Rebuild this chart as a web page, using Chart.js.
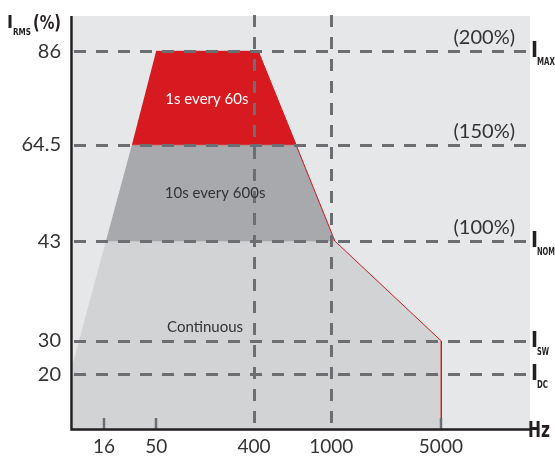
<!DOCTYPE html>
<html><head><meta charset="utf-8">
<script src="https://cdn.jsdelivr.net/npm/chart.js@4.4.1/dist/chart.umd.min.js"></script>
<style>html,body{margin:0;padding:0;background:#fff;}canvas{display:block;}</style>
</head><body>
<canvas id="c" width="555" height="456"></canvas>
<script>
// ---- data (schematic axis units) ----
const freqLabels = ['16', '50', '400', '1000', '5000'];
const freqPos = [6.8, 18.2, 39.6, 56.5, 80.5];
const currentLabels = ['20', '30', '43', '64.5', '86'];
const currentPos = [13.3, 21.3, 45.5, 68.8, 91.5];
const ratingLabels = ['(200%)', '(150%)', '(100%)'];
const ratingIdx = [4, 3, 2];
const refNames = ['MAX', 'NOM', 'SW', 'DC'];
const refIdx = [4, 2, 1, 0];
const zoneNames = ['1s every 60s', '10s every 600s', 'Continuous'];
const zone1sX = [18.2, 40.5, 48.8, 12.9];
const zone1sY = [91.5, 91.5, 68.8, 68.8];
const zone10sX = [12.9, 48.8, 57.3, 7.2];
const zone10sY = [68.8, 68.8, 45.5, 45.5];
const zoneContX = [7.2, 57.3, 80.6, 80.6, 0, 0];
const zoneContY = [45.5, 45.5, 21.3, 0, 0, 16.0];
const edgeX = [40.5, 48.8, 57.3, 80.6, 80.6];
const edgeY = [91.5, 68.8, 45.5, 21.3, 0];

const pts = (xs, ys) => xs.map((x, i) => ({x: x, y: ys[i]}));

const C = {
  bg: '#e6e7e8', cont: '#d1d3d4', dark: '#a7a9ac', red: '#d71920',
  dash: '#6d6e71', axis: '#231f20', text: '#333333'
};
const NARROW = '"Liberation Sans Narrow", "DejaVu Sans Condensed", "DejaVu Sans", sans-serif';

function fitText(ctx, t, x, y, w) {
  const m = ctx.measureText(t).width;
  ctx.save();
  ctx.translate(x, y);
  ctx.scale(Math.min(1, w / m), 1);
  ctx.fillText(t, 0, 0);
  ctx.restore();
}

const deco = {
  id: 'deco',
  beforeDraw(chart) {
    const {ctx, chartArea: a} = chart;
    ctx.save();
    ctx.fillStyle = C.bg;
    ctx.fillRect(a.left, a.top, a.right - a.left, a.bottom - a.top);
    ctx.restore();
  },
  afterDatasetsDraw(chart) {
    const {ctx, chartArea: a, scales: {x, y}} = chart;
    ctx.save();
    // horizontal dashed lines
    ctx.strokeStyle = C.dash; ctx.lineWidth = 3; ctx.setLineDash([12, 10]);
    currentPos.forEach(v => {
      const py = Math.round(y.getPixelForValue(v)) + 0.5;
      ctx.beginPath(); ctx.moveTo(a.left + 1, py); ctx.lineTo(a.right + 2, py); ctx.stroke();
    });
    // vertical dashed lines at 400 and 1000
    [2, 3].forEach(i => {
      const px = Math.round(x.getPixelForValue(freqPos[i])) + 0.5;
      ctx.beginPath(); ctx.moveTo(px, a.top - 1); ctx.lineTo(px, a.bottom); ctx.stroke();
    });
    ctx.setLineDash([]);
    // short ticks
    ctx.lineWidth = 2.5;
    [0, 1, 4].forEach(i => {
      const px = Math.round(x.getPixelForValue(freqPos[i]));
      ctx.beginPath(); ctx.moveTo(px, a.bottom - 11); ctx.lineTo(px, a.bottom); ctx.stroke();
    });
    // axes
    ctx.strokeStyle = C.axis; ctx.lineWidth = 2.5;
    ctx.beginPath();
    ctx.moveTo(a.left - 1.5, a.top); ctx.lineTo(a.left - 1.5, a.bottom + 0.5);
    ctx.lineTo(a.right, a.bottom + 0.5);
    ctx.stroke();
    // zone labels
    ctx.textAlign = 'center'; ctx.textBaseline = 'middle';
    ctx.font = '15px Lato';
    ctx.fillStyle = '#ffffff';
    ctx.fillText(zoneNames[0], x.getPixelForValue(29.3), y.getPixelForValue(79.9));
    ctx.fillStyle = C.text;
    ctx.fillText(zoneNames[1], x.getPixelForValue(31.1), y.getPixelForValue(57.1));
    ctx.fillText(zoneNames[2], x.getPixelForValue(28.9), y.getPixelForValue(24.7));
    // rating labels
    ctx.font = '20px Lato'; ctx.textAlign = 'right'; ctx.textBaseline = 'alphabetic';
    ratingLabels.forEach((t, k) => {
      const py = y.getPixelForValue(currentPos[ratingIdx[k]]);
      ctx.fillText(t, a.right - 15, py - 7);
    });
    // right reference labels
    ctx.fillStyle = C.axis; ctx.textAlign = 'left';
    const subW = {MAX: 18, NOM: 18, SW: 12, DC: 11};
    refNames.forEach((t, k) => {
      const py = Math.round(y.getPixelForValue(currentPos[refIdx[k]]));
      ctx.font = 'bold 21px ' + NARROW;
      fitText(ctx, 'I', a.right + 1, py + 6, 7);
      ctx.font = 'bold 10px ' + NARROW;
      fitText(ctx, t, a.right + 7, py + 14, subW[t]);
    });
    // Hz
    ctx.font = 'bold 21px ' + NARROW;
    fitText(ctx, 'Hz', a.right - 2, a.bottom + 8, 22);
    // I_RMS (%)
    ctx.font = 'bold 18px ' + NARROW;
    fitText(ctx, 'I', 7, 28, 6);
    ctx.font = 'bold 9px ' + NARROW;
    fitText(ctx, 'RMS', 13, 35, 18);
    ctx.font = 'bold 20px ' + NARROW;
    fitText(ctx, '(%)', 33, 29, 28);
    ctx.restore();
  }
};

new Chart(document.getElementById('c'), {
  type: 'scatter',
  data: {
    datasets: [
      {data: pts(edgeX, edgeY), showLine: true, fill: false, borderColor: C.red, borderWidth: 1, pointRadius: 0},
      {data: pts(zone1sX, zone1sY), showLine: true, fill: 'shape', backgroundColor: C.red, borderColor: C.red, borderWidth: 0.5, pointRadius: 0},
      {data: pts(zone10sX, zone10sY), showLine: true, fill: 'shape', backgroundColor: C.dark, borderColor: C.dark, borderWidth: 0.5, pointRadius: 0},
      {data: pts(zoneContX, zoneContY), showLine: true, fill: 'shape', backgroundColor: C.cont, borderColor: 'rgba(0,0,0,0)', borderWidth: 0, pointRadius: 0}
    ]
  },
  options: {
    responsive: false,
    animation: false,
    devicePixelRatio: 1,
    layout: {padding: {top: 16, right: 25, left: 0, bottom: 0}},
    plugins: {legend: {display: false}, tooltip: {enabled: false}},
    scales: {
      x: {
        type: 'linear', min: 0, max: 100,
        grid: {display: false, drawTicks: false}, border: {display: false},
        afterBuildTicks: s => { s.ticks = freqPos.map(v => ({value: v})); },
        afterFit: s => { s.height = 27; s.paddingLeft = 0; s.paddingRight = 0; },
        ticks: {
          autoSkip: false, maxRotation: 0, padding: 6,
          font: {family: 'Lato', size: 19}, color: C.text,
          callback: (v, i) => freqLabels[i]
        }
      },
      y: {
        type: 'linear', min: 0, max: 100,
        grid: {display: false, drawTicks: false}, border: {display: false},
        afterBuildTicks: s => { s.ticks = currentPos.map(v => ({value: v})); },
        afterFit: s => { s.width = 73; s.paddingTop = 0; s.paddingBottom = 0; },
        ticks: {
          autoSkip: false, padding: 12,
          font: {family: 'Lato', size: 20}, color: C.text,
          callback: (v, i) => currentLabels[i]
        }
      }
    }
  },
  plugins: [deco]
});
</script>
</body></html>
